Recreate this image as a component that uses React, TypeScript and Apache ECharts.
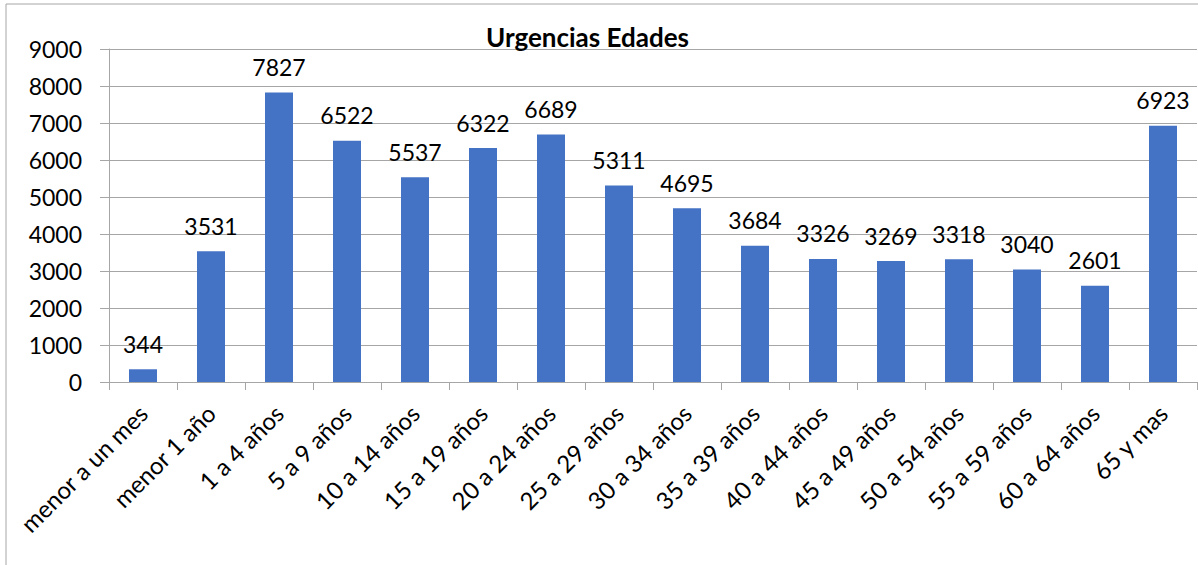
import React, { useEffect, useRef } from "react";
import * as echarts from "echarts";

const categories = [
  "menor a un mes", "menor 1 año", "1 a 4 años", "5 a 9 años", "10 a 14 años",
  "15 a 19 años", "20 a 24 años", "25 a 29 años", "30 a 34 años", "35 a 39 años",
  "40 a 44 años", "45 a 49 años", "50 a 54 años", "55 a 59 años", "60 a 64 años", "65 y mas",
];
const values = [344, 3531, 7827, 6522, 5537, 6322, 6689, 5311, 4695, 3684, 3326, 3269, 3318, 3040, 2601, 6923];
const title = "Urgencias Edades";

export default function App() {
  const ref = useRef<HTMLDivElement>(null);
  useEffect(() => {
    const chart = echarts.init(ref.current!, null, { renderer: "svg" });
    const font = "Lato, 'Open Sans', sans-serif";
    chart.setOption({
      animation: false,
      backgroundColor: "#fff",
      title: {
        text: title,
        left: 481,
        top: 19,
        textStyle: { fontFamily: font, fontSize: 26, fontWeight: "bold", color: "#000" },
      },
      grid: { left: 109, top: 49, right: 1, bottom: 183, containLabel: false },
      xAxis: {
        type: "category",
        data: categories,
        axisLine: { lineStyle: { color: "#a6a6a6", width: 1 } },
        axisTick: { show: true, length: 8, lineStyle: { color: "#a6a6a6" } },
        axisLabel: { rotate: 45, fontFamily: font, fontSize: 24, color: "#000", margin: 27, interval: 0 },
      },
      yAxis: {
        type: "value",
        min: 0,
        max: 9000,
        interval: 1000,
        axisLine: { show: true, lineStyle: { color: "#a6a6a6", width: 1 } },
        axisTick: { show: true, length: 9, lineStyle: { color: "#a6a6a6" } },
        splitLine: { lineStyle: { color: "#a6a6a6", width: 1 } },
        axisLabel: { fontFamily: font, fontSize: 23, color: "#000", margin: 27, formatter: (v: number) => String(v) },
      },
      series: [
        {
          type: "bar",
          data: values,
          barWidth: 28,
          itemStyle: { color: "#4472C4" },
          label: { show: true, position: "top", distance: 14, fontFamily: font, fontSize: 23, color: "#000" },
        },
      ],
      graphic: [
        { type: "line", shape: { x1: 6, y1: 4, x2: 1198, y2: 4 }, style: { stroke: "#a6a6a6", lineWidth: 1 } },
        { type: "line", shape: { x1: 6, y1: 4, x2: 6, y2: 565 }, style: { stroke: "#a6a6a6", lineWidth: 1 } },
      ],
    });
    return () => chart.dispose();
  }, []);
  return <div ref={ref} style={{ position: "fixed", left: 0, top: 0, width: 1198, height: 565 }} />;
}
